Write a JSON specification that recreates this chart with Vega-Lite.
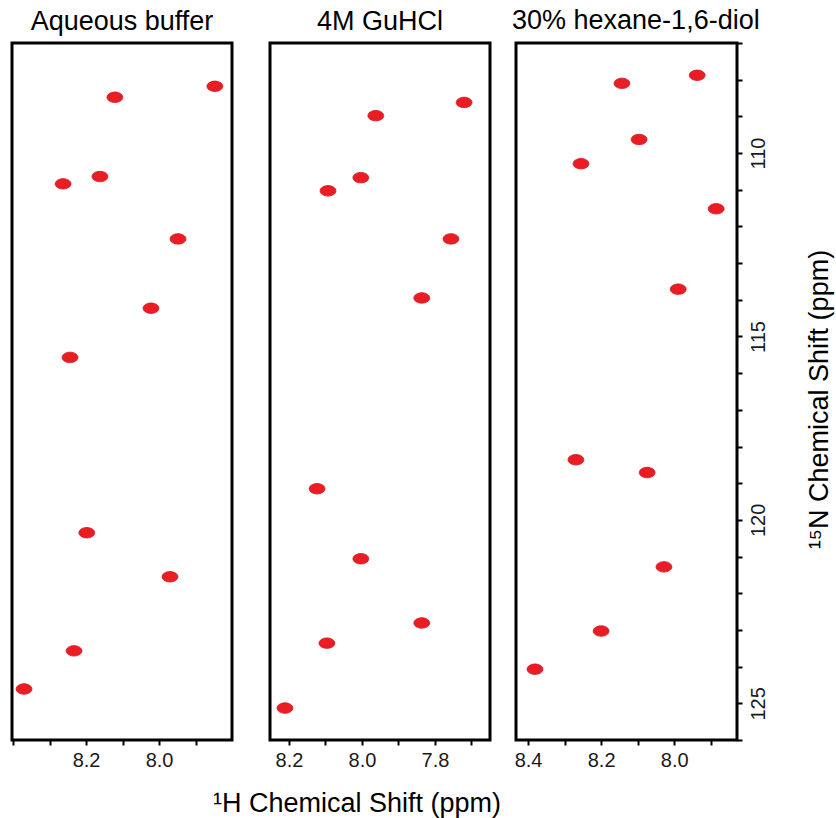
{
  "$schema": "https://vega.github.io/schema/vega-lite/v6.json",
  "autosize": {"type": "pad"},
  "padding": {"left": 10, "top": 5, "right": 2, "bottom": 2},
  "background": "white",
  "title": {"text": "¹H Chemical Shift (ppm)", "orient": "bottom", "anchor": "start", "frame": "group", "fontSize": 27, "baseline": "alphabetic", "offset": 40, "dx": 201},
  "datasets": {
    "aqueous": [
      {"H": 7.847, "N": 108.18}, {"H": 8.121, "N": 108.48}, {"H": 8.263, "N": 110.84},
      {"H": 8.162, "N": 110.64}, {"H": 7.948, "N": 112.34}, {"H": 8.022, "N": 114.23},
      {"H": 8.244, "N": 115.57}, {"H": 8.198, "N": 120.35}, {"H": 7.970, "N": 121.55},
      {"H": 8.233, "N": 123.57}, {"H": 8.370, "N": 124.61}
    ],
    "guhcl": [
      {"H": 7.720, "N": 108.62}, {"H": 7.962, "N": 108.98}, {"H": 8.003, "N": 110.67},
      {"H": 8.093, "N": 111.03}, {"H": 7.756, "N": 112.34}, {"H": 7.836, "N": 113.95},
      {"H": 8.123, "N": 119.15}, {"H": 8.003, "N": 121.06}, {"H": 7.836, "N": 122.81},
      {"H": 8.096, "N": 123.36}, {"H": 8.211, "N": 125.13}
    ],
    "hexanediol": [
      {"H": 7.937, "N": 107.88}, {"H": 8.143, "N": 108.10}, {"H": 8.096, "N": 109.63},
      {"H": 8.255, "N": 110.29}, {"H": 7.885, "N": 111.52}, {"H": 7.989, "N": 113.71},
      {"H": 8.269, "N": 118.36}, {"H": 8.074, "N": 118.71}, {"H": 8.028, "N": 121.28},
      {"H": 8.200, "N": 123.03}, {"H": 8.381, "N": 124.07}
    ]
  },
  "config": {
    "font": "Liberation Sans",
    "view": {"stroke": "black", "strokeWidth": 3},
    "axis": {
      "domain": false, "grid": false, "ticks": true,
      "tickColor": "black", "tickWidth": 2, "tickSize": 5,
      "labelFont": "Liberation Sans", "labelFontSize": 20, "labelColor": "#1a1a1a",
      "labelPadding": 5, "labelFlush": false, "labelOverlap": false,
      "titleFont": "Liberation Sans", "titleFontSize": 27, "titleFontWeight": "normal", "titleColor": "black"
    },
    "title": {"font": "Liberation Sans", "fontSize": 27, "fontWeight": "normal", "color": "black", "anchor": "middle", "baseline": "alphabetic", "offset": 7, "frame": "group"},
    "point": {"shape": "M-1,0A1,0.66,0,1,1,1,0A1,0.66,0,1,1,-1,0Z", "size": 250, "filled": true, "fill": "#ea1d25", "stroke": "#d0141c", "strokeWidth": 0.8, "opacity": 1}
  },
  "spacing": 18,
  "hconcat": [
    {
      "spacing": 38,
      "bounds": "flush",
      "hconcat": [
        {
          "width": 220, "height": 697,
          "title": {"text": "Aqueous buffer"},
          "data": {"name": "aqueous"},
          "mark": {"type": "point"},
          "encoding": {
            "x": {"field": "H", "type": "quantitative",
              "scale": {"domain": [8.403, 7.80], "nice": false, "zero": false},
              "axis": {"values": [8.4, 8.3, 8.2, 8.1, 8.0, 7.9], "title": null,
                "labelExpr": "(datum.value == 8.2 || datum.value == 8) ? format(datum.value, '.1f') : ''"}},
            "y": {"field": "N", "type": "quantitative",
              "scale": {"domain": [107, 126], "nice": false, "zero": false, "reverse": true},
              "axis": null}
          }
        },
        {
          "width": 220, "height": 697,
          "title": {"text": "4M GuHCl"},
          "data": {"name": "guhcl"},
          "mark": {"type": "point"},
          "encoding": {
            "x": {"field": "H", "type": "quantitative",
              "scale": {"domain": [8.252, 7.649], "nice": false, "zero": false},
              "axis": {"values": [8.2, 8.1, 8.0, 7.9, 7.8, 7.7], "title": null,
                "labelExpr": "(datum.value == 8.2 || datum.value == 8 || datum.value == 7.8) ? format(datum.value, '.1f') : ''"}},
            "y": {"field": "N", "type": "quantitative",
              "scale": {"domain": [107, 126], "nice": false, "zero": false, "reverse": true},
              "axis": null}
          }
        }
      ]
    },
    {
      "width": 221, "height": 697,
      "title": {"text": "30% hexane-1,6-diol", "anchor": "start", "dx": -4},
      "data": {"name": "hexanediol"},
      "mark": {"type": "point"},
      "encoding": {
        "x": {"field": "H", "type": "quantitative",
          "scale": {"domain": [8.433, 7.828], "nice": false, "zero": false},
          "axis": {"values": [8.4, 8.3, 8.2, 8.1, 8.0, 7.9], "title": null,
            "labelExpr": "(datum.value == 8.4 || datum.value == 8.2 || datum.value == 8) ? format(datum.value, '.1f') : ''"}},
        "y": {"field": "N", "type": "quantitative",
          "scale": {"domain": [107, 126], "nice": false, "zero": false, "reverse": true},
          "axis": {"orient": "right",
            "values": [107, 108, 109, 110, 111, 112, 113, 114, 115, 116, 117, 118, 119, 120, 121, 122, 123, 124, 125, 126],
            "labelExpr": "datum.value % 5 == 0 ? datum.value : ''",
            "labelAngle": 270, "labelAlign": "center", "labelBaseline": "top", "labelPadding": 6,
            "title": "¹⁵N Chemical Shift (ppm)", "titleAngle": 270, "titleBaseline": "top", "titlePadding": 38, "titleY": 356}}
      }
    }
  ]
}
